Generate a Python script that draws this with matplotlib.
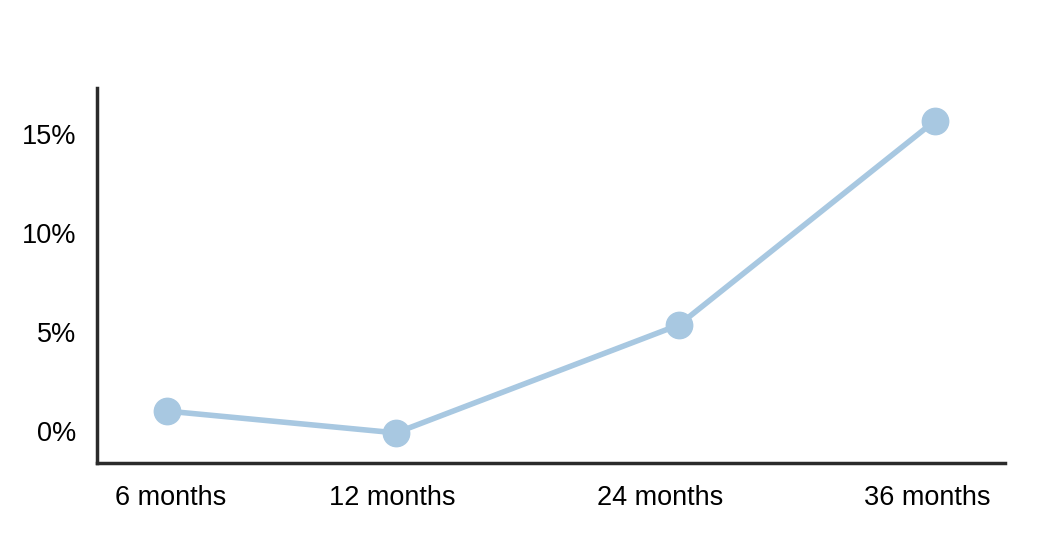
import matplotlib
matplotlib.use("Agg")
import matplotlib.pyplot as plt
from matplotlib.ticker import FuncFormatter

categories = ["6 months", "12 months", "24 months", "36 months"]
values = [1.0, -0.1, 5.35, 15.65]
yticks = [0, 5, 10, 15]

point_pos = [0.0, 0.895, 2.0, 3.0]
label_pos = [0.016, 0.879, 1.926, 2.969]

plt.rcParams['font.family'] = ['Liberation Sans', 'DejaVu Sans']

fig = plt.figure(figsize=(10.43, 5.33), dpi=100)
ax = fig.add_axes([97/1043, 1-463/533, (1005-97)/1043, (463-88)/533])

ax.plot(point_pos, values, color="#a8c8e1", lw=4, marker="o", ms=19,
        solid_capstyle="round", zorder=3)

ax.set_xlim(-0.273, 3.273)
ax.set_ylim(-1.62, 17.3)
ax.set_xticks(label_pos)
ax.set_xticklabels(categories)
ax.set_yticks(yticks)
ax.yaxis.set_major_formatter(FuncFormatter(lambda v, p: f"{v:.0f}%"))

for s in ["top", "right"]:
    ax.spines[s].set_visible(False)
for s in ["left", "bottom"]:
    ax.spines[s].set_linewidth(2.5)
    ax.spines[s].set_color("#2b2b2b")

ax.tick_params(axis="both", length=0, labelsize=19.5, colors="black")
ax.tick_params(axis="x", pad=16)
ax.tick_params(axis="y", pad=15)

fig.savefig("out.png", dpi=100)
